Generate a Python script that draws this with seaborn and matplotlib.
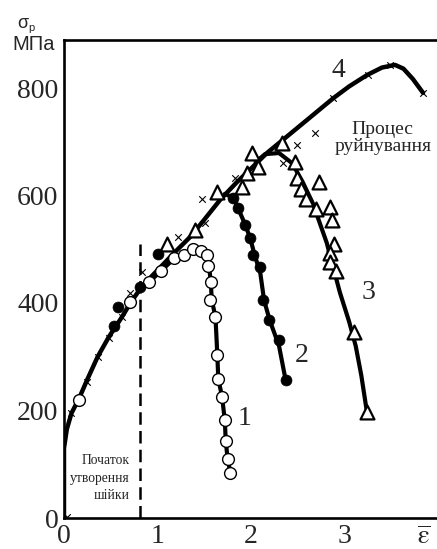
import numpy as np
import pandas as pd
import matplotlib
matplotlib.use("Agg")
import matplotlib.pyplot as plt
import seaborn as sns

# ---- data ----
# curve 4: main hardening curve
c4_x = [0.0, 0.0, 0.03, 0.08, 0.16, 0.25, 0.36, 0.48, 0.62, 0.71, 0.83, 0.95, 1.05, 1.20, 1.35,
        1.50, 1.67, 1.85, 2.00, 2.17, 2.40, 2.63, 2.88, 3.05, 3.24, 3.40, 3.54, 3.63, 3.73, 3.84]
c4_y = [0, 130, 165, 195, 222, 258, 300, 337, 374, 400, 430, 452, 470, 497, 523,
        555, 592, 625, 650, 679, 712, 745, 781, 803, 824, 838, 843, 836, 817, 791]

# curve 1 (open circles)
c1_line_x = [0.91, 1.04, 1.18, 1.28, 1.38, 1.47, 1.53, 1.55, 1.57, 1.58, 1.62, 1.64, 1.65, 1.69, 1.72, 1.73, 1.75, 1.78]
c1_line_y = [439, 460, 483, 490, 500, 497, 489, 469, 440, 406, 374, 303, 259, 226, 182, 143, 110, 84]
c1_pts_x = [0.16, 0.71, 0.91, 1.04, 1.18, 1.28, 1.38, 1.47, 1.53, 1.54, 1.57, 1.56, 1.62, 1.64, 1.65, 1.69, 1.72, 1.73, 1.75, 1.78]
c1_pts_y = [220, 402, 439, 460, 483, 490, 500, 497, 489, 469, 440, 406, 374, 303, 259, 226, 182, 143, 110, 84]

# curve 2 (filled circles)
c2_line_x = [1.72, 1.81, 1.86, 1.94, 1.99, 2.04, 2.10, 2.14, 2.20, 2.30, 2.37]
c2_line_y = [603, 596, 577, 545, 521, 489, 455, 405, 368, 320, 257]
c2_pts_x = [0.53, 0.58, 0.81, 1.01, 1.81, 1.86, 1.94, 1.99, 2.02, 2.10, 2.13, 2.19, 2.30, 2.37]
c2_pts_y = [357, 393, 430, 492, 596, 577, 545, 521, 489, 467, 405, 368, 331, 257]

# curve 3 (triangles)
c3_line_x = [2.05, 2.15, 2.30, 2.44, 2.55, 2.66, 2.81, 2.95, 3.05, 3.12, 3.18, 3.24]
c3_line_y = [662, 677, 679, 660, 626, 586, 512, 420, 365, 320, 265, 197]
c3_pts_x = [1.10, 1.40, 1.64, 1.90, 1.96, 2.01, 2.08, 2.33, 2.47, 2.49, 2.54, 2.59, 2.70, 2.73,
            2.85, 2.87, 2.89, 2.84, 2.85, 2.91, 3.10, 3.24]
c3_pts_y = [510, 535, 607, 616, 641, 679, 653, 698, 662, 632, 613, 593, 574, 625,
            578, 554, 510, 493, 476, 460, 346, 197]

# x-marks (curve 4 experimental points)
c4_pts_x = [0.03, 0.08, 0.25, 0.36, 0.48, 0.62, 0.71, 0.83, 1.22, 1.51, 1.48, 1.83, 2.34, 2.49,
            2.68, 2.88, 3.25, 3.49, 3.84]
c4_pts_y = [2, 195, 253, 300, 335, 374, 418, 458, 523, 548, 594, 632, 660, 694,
            716, 781, 824, 843, 791]

neck_x = 0.81
neck_top = 510

x_ticks = [0, 1, 2, 3]
y_ticks = [0, 200, 400, 600, 800]

# ---- style ----
sns.set_style("white")
plt.rcParams['font.family'] = ['Liberation Serif', 'DejaVu Serif']
plt.rcParams['mathtext.fontset'] = 'stix'

W, H = 437, 549
fig = plt.figure(figsize=(W / 100, H / 100), dpi=100)
ax = fig.add_axes([64 / W, 31 / H, 1 - 64 / W, 478 / H])

lw_main = 3.2
sns.lineplot(x=c4_x, y=c4_y, sort=False, estimator=None, color='black', lw=lw_main, ax=ax, zorder=2)
sns.lineplot(x=c1_line_x, y=c1_line_y, sort=False, estimator=None, color='black', lw=3.0, ax=ax, zorder=2)
sns.lineplot(x=c2_line_x, y=c2_line_y, sort=False, estimator=None, color='black', lw=3.0, ax=ax, zorder=2)
sns.lineplot(x=c3_line_x, y=c3_line_y, sort=False, estimator=None, color='black', lw=3.0, ax=ax, zorder=2)
sns.lineplot(x=[neck_x, neck_x], y=[0, neck_top], sort=False, estimator=None, color='black',
             lw=1.8, ax=ax, zorder=2, dashes=False, linestyle=(0, (5, 2.5)))

sns.scatterplot(x=c4_pts_x, y=c4_pts_y, marker='x', s=22, color='black', linewidth=0.8, ax=ax, zorder=3)
sns.scatterplot(x=c3_pts_x, y=c3_pts_y, marker='^', s=100, facecolor='white', edgecolor='black',
                linewidth=1.6, ax=ax, zorder=4)
sns.scatterplot(x=c1_pts_x, y=c1_pts_y, marker='o', s=72, facecolor='white', edgecolor='black',
                linewidth=1.0, ax=ax, zorder=5)
sns.scatterplot(x=c2_pts_x, y=c2_pts_y, marker='o', s=62, color='black', edgecolor='black',
                linewidth=0.5, ax=ax, zorder=5)

ax.set_xlim(0, 373 / 93.5)
ax.set_ylim(0, 478 / 0.5375)
ax.set_xticks(x_ticks)
ax.set_yticks(y_ticks)
ax.set_xticklabels([str(t) for t in x_ticks])
ax.set_yticklabels([str(t) for t in y_ticks])
ax.tick_params(axis='x', direction='in', length=12, width=1.2, labelsize=20, pad=4, color='#333333')
ax.tick_params(axis='y', direction='in', length=15, width=0.8, labelsize=20, pad=4, color='#cccccc')
ax.set_xlabel('')
ax.set_ylabel('')
for s in ['left', 'bottom', 'top']:
    ax.spines[s].set_linewidth(1.9)
    ax.spines[s].set_color('black')
ax.spines['right'].set_visible(False)

# curve labels
ax.text(1.93, 186, '1', fontsize=20, ha='center', va='center')
ax.text(2.54, 303, '2', fontsize=20, ha='center', va='center')
ax.text(3.26, 419, '3', fontsize=20, ha='center', va='center')
ax.text(2.93, 832, '4', fontsize=20, ha='center', va='center')
ax.text(3.41, 707, 'Процес\nруйнування', fontsize=14, ha='center', va='center', linespacing=1.0)
ax.text(0.706, 74, 'Початок\nутворення\nшійки', fontsize=9.8, ha='right', va='center',
        multialignment='right', linespacing=1.45)

# axis titles
fig.text(17 / W, 1 - 28 / H, 'σ', fontsize=13, family='Liberation Sans', ha='left', va='baseline')
fig.text(28 / W, 1 - 31 / H, 'р', fontsize=8, family='Liberation Sans', ha='left', va='baseline')
fig.text(12 / W, 1 - 50 / H, 'МПа', fontsize=14.5, family='Liberation Sans', ha='left', va='baseline')
fig.text(424 / W, 0.5 / H, r'$\overline{\mathrm{ε}}$', fontsize=19, ha='center', va='bottom')

fig.savefig('out.png', dpi=100)
